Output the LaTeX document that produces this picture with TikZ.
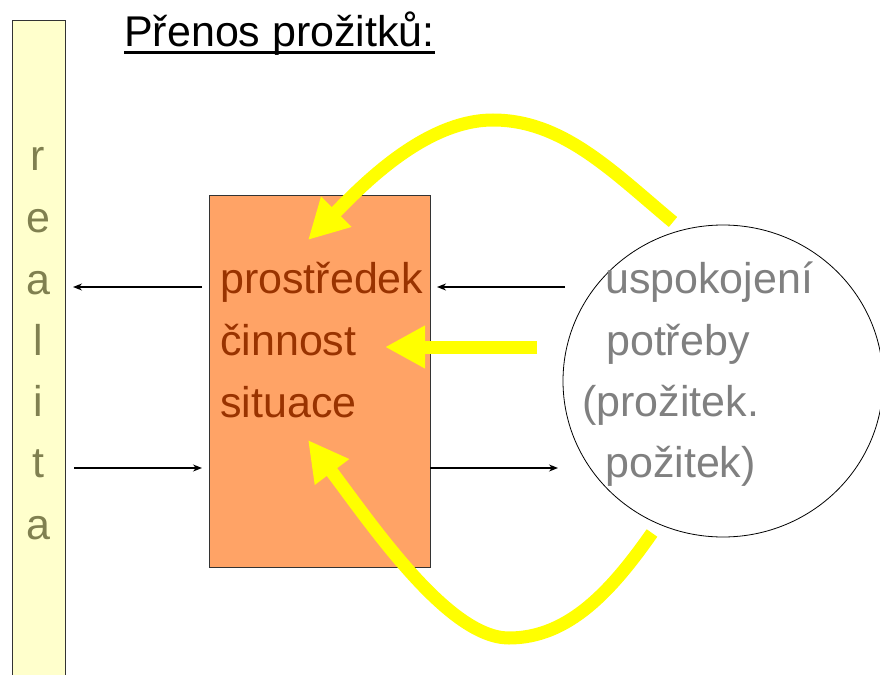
\documentclass[tikz,border=0pt]{standalone}
\usepackage{fontspec}
\setmainfont{Liberation Sans}
\usetikzlibrary{arrows.meta,shapes.geometric}
\definecolor{barfill}{HTML}{FFFFCC}
\definecolor{bartext}{HTML}{808050}
\definecolor{boxfill}{HTML}{FFA366}
\definecolor{boxtext}{HTML}{993300}
\definecolor{circtext}{HTML}{808080}
\definecolor{yel}{HTML}{FFFF00}
\definecolor{edge}{HTML}{333333}
\begin{document}
\begin{tikzpicture}[x=1bp,y=-1bp,
  txt/.style={font=\fontsize{43bp}{50bp}\selectfont, inner sep=0pt, anchor=base west},
  thinarrow/.style={line width=1.4bp, -{Stealth[length=9bp,width=7bp]}},
  yelarrow/.style={draw=yel, line width=13bp, -{Triangle[length=40bp,width=40bp]}}]
\useasboundingbox (0,0) rectangle (880,675);
\fill[white] (0,0) rectangle (880,675);
% left bar
\node (bar) [draw=edge, line width=0.8bp, fill=barfill, inner sep=0pt, minimum width=53bp, minimum height=670bp, anchor=north west] at (12,20) {};
\foreach \l/\yy [count=\i] in {r/171, e/232, a/294, l/355, i/416, t/477, a/539}
  \node (L\i) [txt, anchor=base, text=bartext] at (38,\yy) {\l};
% title
\node (title) [txt] at (124,47) {Přenos prožitků:};
\draw[line width=3bp] ([yshift=-6bp]title.base west) -- ([yshift=-6bp]title.base east);
% orange box
\node (box) [draw=edge, line width=0.8bp, fill=boxfill, inner sep=0pt, minimum width=221bp, minimum height=372bp, anchor=north west] at (209,195) {};
\node (t1) [txt, text=boxtext] at (220,293) {prostředek};
\node (t2) [txt, text=boxtext] at (220,355) {činnost};
\node (t3) [txt, text=boxtext] at (220,417) {situace};
% circle
\node (circ) [draw, ellipse, line width=0.8bp, inner sep=0pt, minimum width=320bp, minimum height=312bp] at (723,381) {};
\node (c1) [txt, text=circtext] at (605,293) {uspokojení};
\node (c2) [txt, text=circtext] at (606,355) {potřeby};
\node (c3) [txt, text=circtext] at (582,416) {(prožitek.};
\node (c4) [txt, text=circtext] at (605,477) {požitek)};
% thin arrows
\coordinate (a1s) at (202,287); \coordinate (a1e) at (73,287);
\coordinate (a2s) at (565,287); \coordinate (a2e) at (437,287);
\coordinate (a3s) at (74,468);  \coordinate (a3e) at (202,468);
\coordinate (a4s) at (430,468); \coordinate (a4e) at (558,468);
\draw[thinarrow] (a1s) -- (a1e);
\draw[thinarrow] (a2s) -- (a2e);
\draw[thinarrow] (a3s) -- (a3e);
\draw[thinarrow] (a4s) -- (a4e);
% yellow arrows
\coordinate (y1s) at (673,222); \coordinate (y1m) at (493,120); \coordinate (y1e) at (308,240);
\coordinate (y2s) at (537,347); \coordinate (y2e) at (385,347);
\coordinate (y3s) at (652,533); \coordinate (y3m) at (509,638); \coordinate (y3e) at (308,440);
\draw[yelarrow] (y1s) .. controls (613,172) and (563,120) .. (y1m) .. controls (423,120) and (358,190) .. (y1e);
\draw[yelarrow] (y2s) -- (y2e);
\draw[yelarrow] (y3s) .. controls (612,590) and (569,638) .. (y3m) .. controls (449,638) and (374,528) .. (y3e);
\end{tikzpicture}
\end{document}
